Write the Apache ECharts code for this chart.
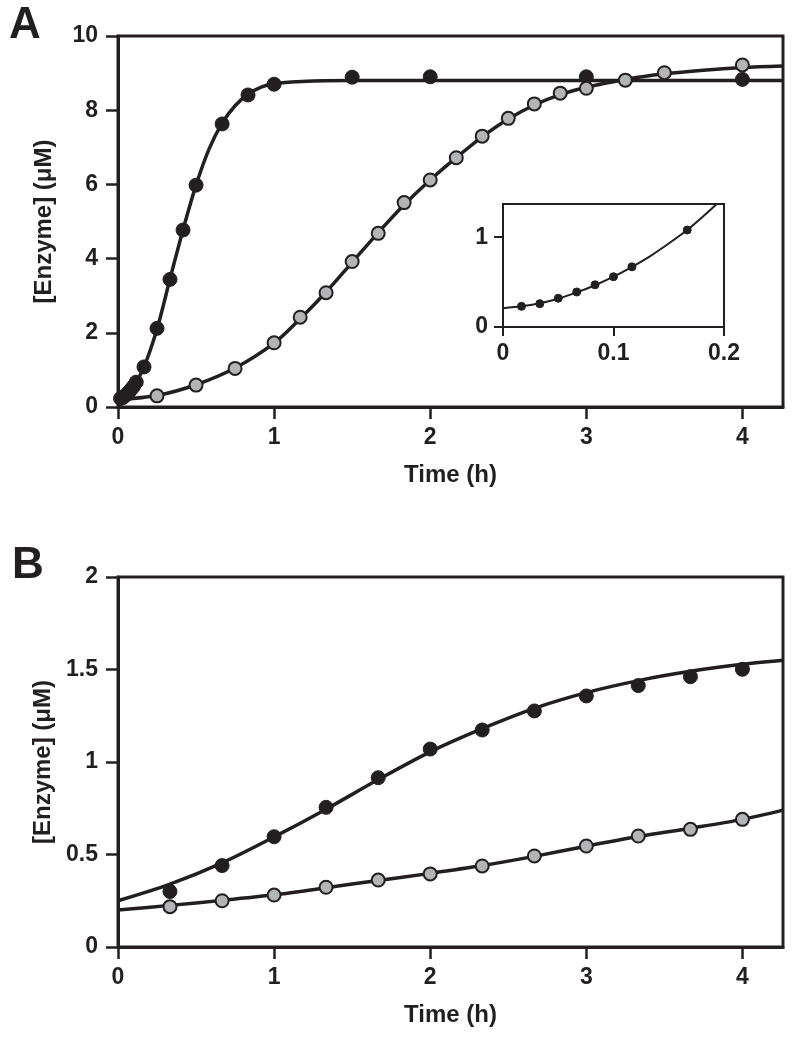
<!DOCTYPE html>
<html>
<head>
<meta charset="utf-8">
<script src="https://cdn.jsdelivr.net/npm/echarts@6/dist/echarts.min.js"></script>
<style>
  html, body { margin: 0; padding: 0; background: #fff; }
  #main { width: 795px; height: 1040px; }
</style>
</head>
<body>
<div id="main"></div>
<script>
'use strict';
// panel A, measured points (time in h, enzyme in uM)
var aBlackT = [0.0167, 0.0333, 0.05, 0.0667, 0.0833, 0.1, 0.1167, 0.1667, 0.25, 0.333, 0.4167, 0.5, 0.667, 0.833, 1.0, 1.5, 2.0, 3.0, 4.0];
var aBlackY = [0.23, 0.26, 0.32, 0.39, 0.47, 0.56, 0.67, 1.08, 2.12, 3.44, 4.77, 5.98, 7.63, 8.41, 8.70, 8.89, 8.90, 8.90, 8.83];
var aGrayT = [0.25, 0.5, 0.75, 1.0, 1.167, 1.333, 1.5, 1.667, 1.833, 2.0, 2.167, 2.333, 2.5, 2.667, 2.833, 3.0, 3.25, 3.5, 4.0];
var aGrayY = [0.30, 0.59, 1.04, 1.73, 2.42, 3.08, 3.92, 4.68, 5.51, 6.12, 6.72, 7.30, 7.78, 8.17, 8.46, 8.59, 8.81, 9.01, 9.22];

// panel A, fitted curves
var aBlackFitT = [0, 0.0167, 0.05, 0.1, 0.1667, 0.25, 0.333, 0.4167, 0.5, 0.583, 0.667, 0.75, 0.833, 0.917, 1.0, 1.25, 1.5, 4.26];
var aBlackFitY = [0.2, 0.22, 0.31, 0.55, 1.08, 2.1, 3.45, 4.78, 5.98, 6.95, 7.65, 8.12, 8.43, 8.62, 8.72, 8.79, 8.8, 8.8];
var aGrayFitT = [0, 0.25, 0.5, 0.75, 1.0, 1.167, 1.333, 1.5, 1.667, 1.833, 2.0, 2.167, 2.333, 2.5, 2.667, 2.833, 3.0, 3.25, 3.5, 3.75, 4.0, 4.26];
var aGrayFitY = [0.2, 0.31, 0.6, 1.05, 1.72, 2.38, 3.1, 3.9, 4.7, 5.45, 6.12, 6.72, 7.28, 7.76, 8.14, 8.42, 8.62, 8.83, 8.98, 9.08, 9.15, 9.19];

// inset: first minutes of the black series
var insetT = [0.0167, 0.0333, 0.05, 0.0667, 0.0833, 0.1, 0.1167, 0.1667];
var insetY = [0.23, 0.26, 0.32, 0.39, 0.47, 0.56, 0.67, 1.08];
var insetFitT = [0, 0.0167, 0.0333, 0.05, 0.0667, 0.0833, 0.1, 0.1167, 0.1333, 0.15, 0.1667, 0.18, 0.19, 0.2];
var insetFitY = [0.21, 0.23, 0.265, 0.315, 0.385, 0.465, 0.56, 0.67, 0.79, 0.93, 1.08, 1.22, 1.33, 1.45];

// panel B
var bT = [0.333, 0.667, 1.0, 1.333, 1.667, 2.0, 2.333, 2.667, 3.0, 3.333, 3.667, 4.0];
var bBlackY = [0.30, 0.44, 0.596, 0.755, 0.915, 1.07, 1.173, 1.276, 1.357, 1.413, 1.461, 1.501];
var bGrayY = [0.218, 0.25, 0.281, 0.323, 0.362, 0.395, 0.438, 0.492, 0.546, 0.60, 0.636, 0.69];
var bFitT = [0, 0.333, 0.667, 1.0, 1.333, 1.667, 2.0, 2.333, 2.667, 3.0, 3.333, 3.667, 4.0, 4.26];
var bBlackFitY = [0.25, 0.34, 0.455, 0.595, 0.745, 0.905, 1.055, 1.18, 1.29, 1.375, 1.44, 1.49, 1.528, 1.55];
var bGrayFitY = [0.2, 0.225, 0.252, 0.282, 0.32, 0.36, 0.398, 0.44, 0.49, 0.545, 0.597, 0.642, 0.69, 0.74];

var xTicks = [0, 1, 2, 3, 4];
var ink = '#231f20';
var grayFill = '#b3b4b6';
var font = 'Liberation Sans, Arial, sans-serif';

function zip(t, y) {
  return t.map(function (v, i) { return [v, y[i]]; });
}

function axisStyle(size, tickLen, margin) {
  return {
    axisLine: { show: true, lineStyle: { color: ink, width: 3 } },
    axisTick: { show: true, inside: false, length: tickLen, lineStyle: { color: ink, width: 2.5 } },
    axisLabel: { color: ink, fontFamily: font, fontWeight: 'bold', fontSize: size, margin: margin },
    splitLine: { show: false }
  };
}

function merge(a, b) {
  var o = {};
  for (var k in a) o[k] = a[k];
  for (var k2 in b) {
    if (o[k2] && typeof o[k2] === 'object' && typeof b[k2] === 'object' && !Array.isArray(b[k2])) {
      o[k2] = merge(o[k2], b[k2]);
    } else {
      o[k2] = b[k2];
    }
  }
  return o;
}

function fitLine(x, y, data, w) {
  return {
    type: 'line', xAxisIndex: x, yAxisIndex: y, data: data, smooth: 0.3,
    showSymbol: false, symbol: 'none', silent: true, z: 2,
    lineStyle: { color: ink, width: w }
  };
}

function dots(x, y, data, fill, size, border) {
  return {
    type: 'scatter', xAxisIndex: x, yAxisIndex: y, data: data, symbolSize: size,
    silent: true, z: 4,
    itemStyle: { color: fill, borderColor: ink, borderWidth: border, opacity: 1 }
  };
}

var gridBox = { show: true, borderColor: ink, borderWidth: 3, backgroundColor: 'transparent' };
var nameStyle = { color: ink, fontFamily: font, fontWeight: 'bold', fontSize: 24 };

var chart = echarts.init(document.getElementById('main'), null, { renderer: 'canvas' });
chart.setOption({
  animation: false,
  backgroundColor: '#fff',
  grid: [
    merge(gridBox, { left: 118, top: 36, width: 665, height: 371 }),
    merge(gridBox, { left: 503, top: 204, width: 221, height: 123, borderWidth: 2, backgroundColor: '#fff' }),
    merge(gridBox, { left: 118, top: 577, width: 665, height: 370 })
  ],
  xAxis: [
    merge(axisStyle(23, 12, 19), {
      type: 'value', gridIndex: 0, min: 0, max: 4.26,
      axisTick: { customValues: xTicks }, axisLabel: { customValues: xTicks },
      name: 'Time (h)', nameLocation: 'middle', nameGap: 56, nameTextStyle: nameStyle
    }),
    merge(axisStyle(23, 9, 15), {
      type: 'value', gridIndex: 1, min: 0, max: 0.2, interval: 0.1,
      axisLine: { lineStyle: { width: 2 } }, axisTick: { lineStyle: { width: 2 } }
    }),
    merge(axisStyle(23, 12, 19), {
      type: 'value', gridIndex: 2, min: 0, max: 4.26,
      axisTick: { customValues: xTicks }, axisLabel: { customValues: xTicks },
      name: 'Time (h)', nameLocation: 'middle', nameGap: 56, nameTextStyle: nameStyle
    })
  ],
  yAxis: [
    merge(axisStyle(23, 12, 20), {
      type: 'value', gridIndex: 0, min: 0, max: 10, interval: 2,
      name: '[Enzyme] (\u03bcM)', nameLocation: 'middle', nameGap: 62, nameTextStyle: nameStyle
    }),
    merge(axisStyle(23, 9, 15), {
      type: 'value', gridIndex: 1, min: 0, max: 1.37,
      axisLine: { lineStyle: { width: 2 } },
      axisTick: { customValues: [0, 1], lineStyle: { width: 2 } },
      axisLabel: { customValues: [0, 1] }
    }),
    merge(axisStyle(23, 12, 20), {
      type: 'value', gridIndex: 2, min: 0, max: 2, interval: 0.5,
      name: '[Enzyme] (\u03bcM)', nameLocation: 'middle', nameGap: 62, nameTextStyle: nameStyle
    })
  ],
  series: [
    fitLine(0, 0, zip(aGrayFitT, aGrayFitY), 3.5),
    fitLine(0, 0, zip(aBlackFitT, aBlackFitY), 3.5),
    dots(0, 0, zip(aBlackT, aBlackY), ink, 14, 1),
    dots(0, 0, zip(aGrayT, aGrayY), grayFill, 13, 2),
    merge(fitLine(1, 1, zip(insetFitT, insetFitY), 2), { z: 6 }),
    merge(dots(1, 1, zip(insetT, insetY), ink, 8, 1), { z: 7 }),
    fitLine(2, 2, zip(bFitT, bBlackFitY), 3.5),
    fitLine(2, 2, zip(bFitT, bGrayFitY), 3.5),
    dots(2, 2, zip(bT, bBlackY), ink, 14, 1),
    dots(2, 2, zip(bT, bGrayY), grayFill, 13, 2)
  ],
  graphic: [
    { type: 'text', left: 9, top: 4, style: { text: 'A', fill: ink, font: 'bold 44px ' + font } },
    { type: 'text', left: 12, top: 544, style: { text: 'B', fill: ink, font: 'bold 44px ' + font } }
  ]
});
</script>
</body>
</html>
